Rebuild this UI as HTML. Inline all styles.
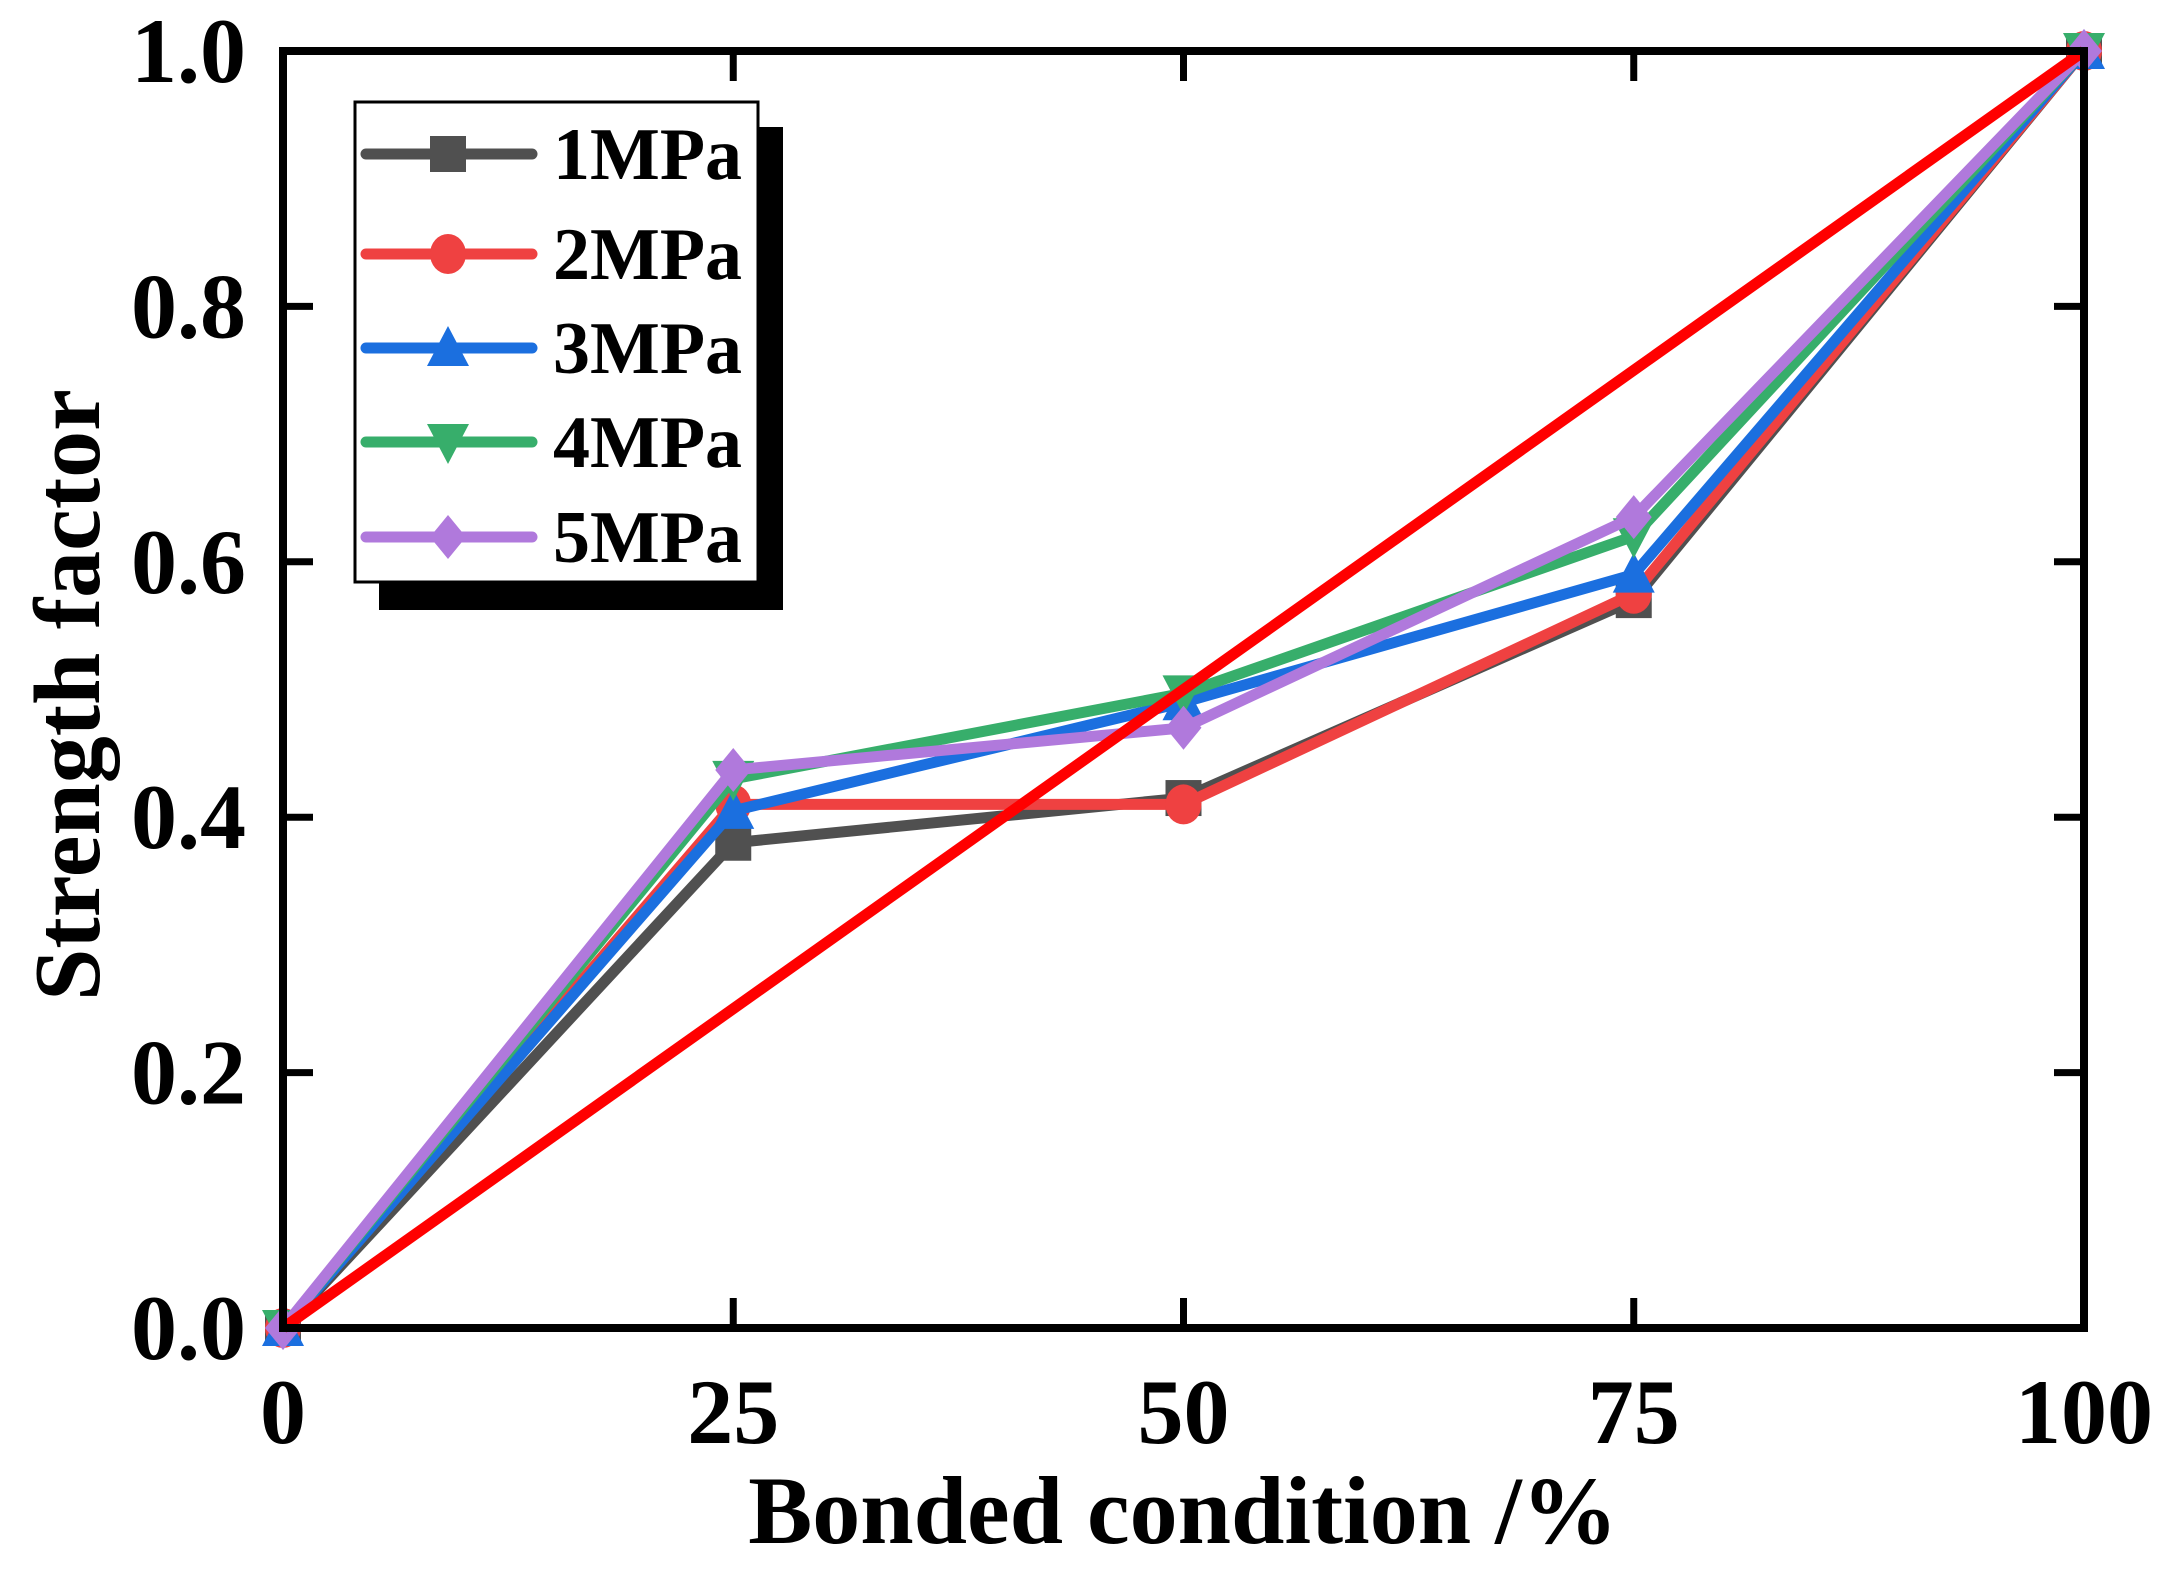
<!DOCTYPE html>
<html><head><meta charset="utf-8"><style>
html,body{margin:0;padding:0;background:#fff;}
svg{display:block;font-family:"Liberation Serif",serif;font-weight:bold;}
</style></head><body>
<svg id="chart" width="2174" height="1571" viewBox="0 0 2174 1571" xmlns="http://www.w3.org/2000/svg">
<g id="marks"></g>
<g id="axes"></g>
<g id="legend"></g>
</svg>
<script>
const categories = [0, 25, 50, 75, 100];
const seriesNames = ["1MPa", "2MPa", "3MPa", "4MPa", "5MPa"];
const s1 = [0, 0.38, 0.415, 0.57, 1.0];
const s2 = [0, 0.41, 0.41, 0.575, 1.0];
const s3 = [0, 0.405, 0.49, 0.59, 1.0];
const s4 = [0, 0.43, 0.497, 0.62, 1.0];
const s5 = [0, 0.437, 0.47, 0.635, 1.0];
const refX = [0, 100];
const refY = [0, 1.0];
const xTicks = [0, 25, 50, 75, 100];
const yTicks = [0, 0.2, 0.4, 0.6, 0.8, 1.0];
const yTickLabels = ["0.0", "0.2", "0.4", "0.6", "0.8", "1.0"];

const L = 283, R = 2084, T = 51, B = 1328;
const xs = v => L + (v - 0) / 100 * (R - L);
const ys = v => B - v / 1.0 * (B - T);
const NS = "http://www.w3.org/2000/svg";
function mk(tag, attrs, parent) {
  const e = document.createElementNS(NS, tag);
  for (const k in attrs) e.setAttribute(k, attrs[k]);
  parent.appendChild(e);
  return e;
}
const colors = ["#505050", "#ef4141", "#1b6fdf", "#37ae6b", "#b079dc"];
const shapes = ["square", "circle", "up", "down", "diamond"];
const data = [s1, s2, s3, s4, s5];
const marks = document.getElementById("marks");

function marker(shape, cx, cy, col, parent, name) {
  let e;
  const r = 18;
  if (shape === "square") e = mk("rect", {x: cx - r, y: cy - r, width: 2 * r, height: 2 * r, fill: col}, parent);
  else if (shape === "circle") e = mk("ellipse", {cx: cx, cy: cy, rx: r, ry: r + 2, fill: col}, parent);
  else if (shape === "up") e = mk("polygon", {points: `${cx},${cy - r - 4} ${cx + r + 3},${cy + r} ${cx - r - 3},${cy + r}`, fill: col}, parent);
  else if (shape === "down") e = mk("polygon", {points: `${cx - r - 3},${cy - r} ${cx + r + 3},${cy - r} ${cx},${cy + r + 4}`, fill: col}, parent);
  else e = mk("polygon", {points: `${cx},${cy - r - 4} ${cx + r},${cy} ${cx},${cy + r + 4} ${cx - r},${cy}`, fill: col}, parent);
  
  
}

data.forEach((arr, i) => {
  const g = mk("g", {}, marks);
  
  
  const pts = arr.map((v, j) => xs(categories[j]) + "," + ys(v)).join(" ");
  const pl = mk("polyline", {points: pts, fill: "none", stroke: colors[i], "stroke-width": 11, "stroke-linejoin": "miter"}, g);
  
  
  arr.forEach((v, j) => marker(shapes[i], xs(categories[j]), ys(v), colors[i], g, 'point-' + seriesNames[i] + '-' + categories[j]));
});
const ref = mk("line", {x1: xs(refX[0]), y1: ys(refY[0]), x2: xs(refX[1]), y2: ys(refY[1]), stroke: "#ff0000", "stroke-width": 11}, marks);



const axes = document.getElementById("axes");
const frame = mk("rect", {x: L, y: T, width: R - L, height: B - T, fill: "none", stroke: "#000", "stroke-width": 8}, axes);


xTicks.forEach(v => {
  const x = xs(v);
  if (v > 0 && v < 100) {
    const t1 = mk("line", {x1: x, y1: B, x2: x, y2: B - 30, stroke: "#000", "stroke-width": 7}, axes);
    
    
    const t2 = mk("line", {x1: x, y1: T, x2: x, y2: T + 30, stroke: "#000", "stroke-width": 7}, axes);
    
    
  }
  const lb = mk("text", {x: x, y: 1443, "text-anchor": "middle", "font-size": 92}, axes);
  lb.textContent = String(v);
  
  
});
yTicks.forEach((v, i) => {
  const y = ys(v);
  if (v > 0 && v < 1) {
    const t1 = mk("line", {x1: L, y1: y, x2: L + 30, y2: y, stroke: "#000", "stroke-width": 7}, axes);
    
    
    const t2 = mk("line", {x1: R, y1: y, x2: R - 30, y2: y, stroke: "#000", "stroke-width": 7}, axes);
    
    
  }
  const lb = mk("text", {x: 246, y: y + 31, "text-anchor": "end", "font-size": 92}, axes);
  lb.textContent = yTickLabels[i];
  
  
});
const xt = mk("text", {x: 1183, y: 1543, "text-anchor": "middle", "font-size": 96}, axes);
xt.textContent = "Bonded condition /%";


const yt = mk("text", {x: 0, y: 0, "text-anchor": "middle", "font-size": 94, transform: "translate(99,695) rotate(-90)"}, axes);
yt.textContent = "Strength factor";



const leg = document.getElementById("legend");
const sh = mk("rect", {x: 379, y: 127, width: 404, height: 483, fill: "#000"}, leg);


const box = mk("rect", {x: 355, y: 102, width: 403, height: 480, fill: "#fff", stroke: "#000", "stroke-width": 3}, leg);


const legY = [154, 254, 348, 442, 537];
seriesNames.forEach((n, i) => {
  const g = mk("g", {}, leg);
  
  
  const y = legY[i];
  mk("line", {x1: 366, y1: y, x2: 532, y2: y, stroke: colors[i], "stroke-width": 11, "stroke-linecap": "round"}, g);
  marker(shapes[i], 448, y, colors[i], g, 'legend-marker');
  const t = mk("text", {x: 553, y: y + 25, "font-size": 74}, g);
  t.textContent = n;
  
  
});
</script>
</body></html>
